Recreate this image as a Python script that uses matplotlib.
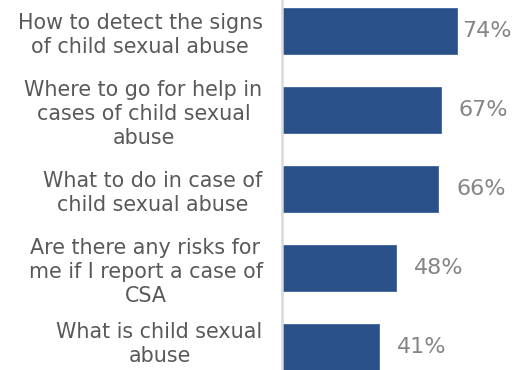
import matplotlib
matplotlib.use("Agg")
import matplotlib.pyplot as plt
from matplotlib.transforms import ScaledTranslation

# Survey topics (top to bottom) and share of respondents, in percent
topics = [
    "How to detect the signs\nof child sexual abuse",
    "Where to go for help in\ncases of child sexual\nabuse",
    "What to do in case of\nchild sexual abuse",
    "Are there any risks for\nme if I report a case of\nCSA",
    "What is child sexual\nabuse",
]
shares = [74, 67, 66, 48, 41]

BAR_COLOR = "#2a5089"
LABEL_COLOR = "#595959"
VALUE_COLOR = "#858585"

plt.rcParams["font.family"] = ["DejaVu Sans"]

fig = plt.figure(figsize=(5.15, 3.7), dpi=100)
ax = fig.add_axes([282 / 515, 0, 237 / 515, 1])

pos = list(range(len(topics)))
ax.barh(pos, shares, height=0.58, color=BAR_COLOR, edgecolor="#3d63a0", linewidth=0.6)

ax.set_xlim(0, 100)
ax.set_ylim(4.29, -0.392)

ax.set_yticks(pos, topics, fontsize=14.9, color=LABEL_COLOR)
for lbl in ax.get_yticklabels():
    lbl.set_multialignment("center")
    lbl.set_linespacing(1.25)
ax.tick_params(axis="y", length=0, pad=14)
ax.set_xticks([])

# the last label sits against the bottom edge; lift it a little
last = ax.get_yticklabels()[-1]
last.set_transform(last.get_transform() + ScaledTranslation(0, 5 / 72, fig.dpi_scale_trans))

for side in ("top", "right", "bottom"):
    ax.spines[side].set_visible(False)
ax.spines["left"].set_color("#d9d9d9")
ax.spines["left"].set_linewidth(1.8)

# value labels just past each bar; kept inside the figure on the right
for i, v in zip(pos, shares):
    ax.text(min(v + 7.6, 75.8), i, f"{v}%", va="center", ha="left",
            fontsize=16, color=VALUE_COLOR, clip_on=False)

fig.savefig("out.png", dpi=100)
